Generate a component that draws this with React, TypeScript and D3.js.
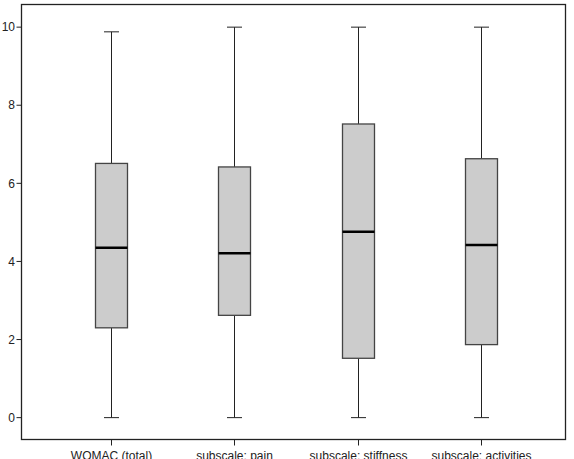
import * as React from "react";
import * as d3 from "d3";

const categories = [
  "WOMAC (total)",
  "subscale: pain",
  "subscale: stiffness",
  "subscale: activities",
];
const whiskerLow = [0, 0, 0, 0];
const q1 = [2.3, 2.62, 1.52, 1.87];
const medians = [4.35, 4.21, 4.76, 4.42];
const q3 = [6.51, 6.42, 7.52, 6.63];
const whiskerHigh = [9.88, 10, 10, 10];
const yTickValues = [0, 2, 4, 6, 8, 10];

const width = 574;
const height = 459;
const frame = { left: 21.5, right: 565.5, top: 4.5, bottom: 439.5 };

export default function App() {
  const xScale = d3
    .scalePoint<string>()
    .domain(categories)
    .range([111, 481]);

  const yScale = d3
    .scaleLinear()
    .domain([-0.56, 10.58])
    .range([frame.bottom, frame.top]);

  const boxWidth = 32;
  const capWidth = 15;

  return (
    <div style={{ position: "fixed", left: 0, top: 0 }}>
      <svg width={width} height={height} fontFamily="Arial, 'Liberation Sans', sans-serif">
        <rect width={width} height={height} fill="white" />
        {/* boxes */}
        {categories.map((c, i) => {
          const cx = Math.round(xScale(c) as number) + 0.5;
          return (
            <g key={c}>
              <line
                x1={cx}
                x2={cx}
                y1={yScale(whiskerHigh[i])}
                y2={yScale(q3[i])}
                stroke="#222"
              />
              <line
                x1={cx}
                x2={cx}
                y1={yScale(q1[i])}
                y2={yScale(whiskerLow[i])}
                stroke="#222"
              />
              <line
                x1={cx - capWidth / 2}
                x2={cx + capWidth / 2}
                y1={yScale(whiskerHigh[i])}
                y2={yScale(whiskerHigh[i])}
                stroke="#222"
              />
              <line
                x1={cx - capWidth / 2}
                x2={cx + capWidth / 2}
                y1={yScale(whiskerLow[i])}
                y2={yScale(whiskerLow[i])}
                stroke="#222"
              />
              <rect
                x={cx - boxWidth / 2}
                width={boxWidth}
                y={yScale(q3[i])}
                height={yScale(q1[i]) - yScale(q3[i])}
                fill="#cccccc"
                stroke="#444"
                strokeWidth={1.3}
              />
              <line
                x1={cx - boxWidth / 2}
                x2={cx + boxWidth / 2}
                y1={yScale(medians[i])}
                y2={yScale(medians[i])}
                stroke="#000"
                strokeWidth={2.5}
              />
            </g>
          );
        })}
        {/* frame */}
        <rect
          x={frame.left}
          y={frame.top}
          width={frame.right - frame.left}
          height={frame.bottom - frame.top}
          fill="none"
          stroke="#222"
          strokeWidth={1.3}
        />
        {/* y axis */}
        <g fontSize={12} fill="#222" textAnchor="end">
          {yTickValues.map((t) => (
            <g key={t} transform={`translate(0, ${yScale(t)})`}>
              <line x1={frame.left - 5} x2={frame.left} stroke="#222" />
              <text x={15} dy="0.35em">
                {t}
              </text>
            </g>
          ))}
        </g>
        {/* x axis */}
        <g fontSize={12} fill="#222" textAnchor="middle">
          {categories.map((c) => {
            const cx = Math.round(xScale(c) as number) + 0.5;
            return (
              <g key={c} transform={`translate(${cx}, ${frame.bottom})`}>
                <line y2={6} stroke="#222" />
                <text y={20.5}>{c}</text>
              </g>
            );
          })}
        </g>
      </svg>
    </div>
  );
}
